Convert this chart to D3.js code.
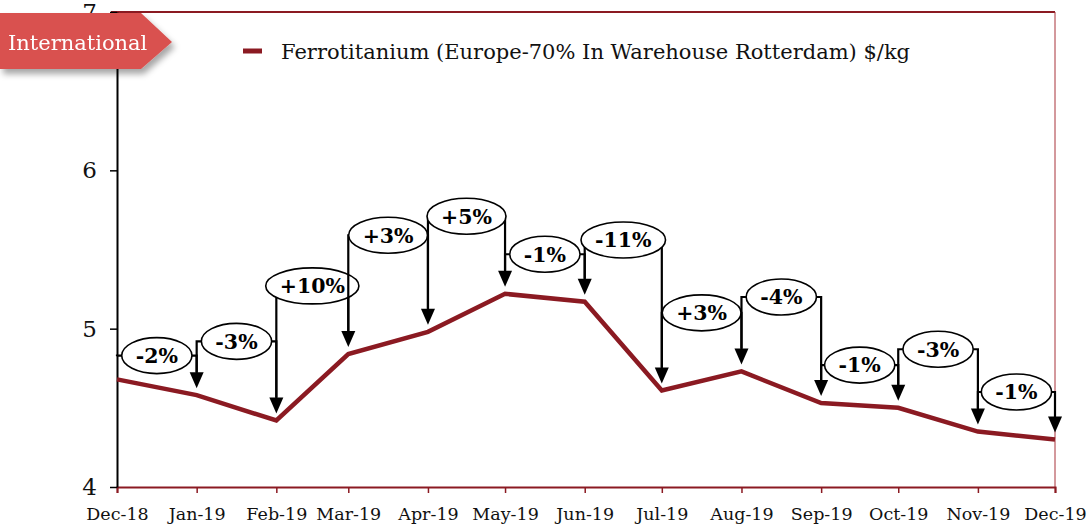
<!DOCTYPE html>
<html>
<head>
<meta charset="utf-8">
<script src="https://cdn.jsdelivr.net/npm/d3@7"></script>
<style>
	body { margin: 0; background: #fff; }
	svg { display: block; }
	.axis text { font-family: "DejaVu Serif", serif; fill: #111; }
</style>
</head>
<body>
<div id="chart"></div>
<script>
//////////////////////////// data /////////////////////////////////////////

const months = ["Dec-18", "Jan-19", "Feb-19", "Mar-19", "Apr-19", "May-19", "Jun-19",
	"Jul-19", "Aug-19", "Sep-19", "Oct-19", "Nov-19", "Dec-19"];
const prices = [4.68, 4.58, 4.42, 4.84, 4.98, 5.22, 5.17, 4.61, 4.73, 4.53, 4.5, 4.35, 4.3];
// month-on-month change callouts, one per step
const changeLabels = ["-2%", "-3%", "+10%", "+3%", "+5%", "-1%", "-11%", "+3%", "-4%", "-1%", "-3%", "-1%"];
// height (in $/kg) where each callout bracket sits
const calloutLevels = [4.83, 4.92, 5.27, 5.59, 5.71, 5.47, 5.56, 5.1, 5.2, 4.77, 4.87, 4.6];
const yTicks = [4, 5, 6, 7];
const seriesName = "Ferrotitanium (Europe-70% In Warehouse Rotterdam) $/kg";
const badgeText = "International";

//////////////////////////// setup ////////////////////////////////////////

const width = 1087;
const height = 527;
const margin = { top: 12, right: 32, bottom: 40, left: 117 };
const lineColor = "#8b1a22";

const parseMonth = d3.timeParse("%b-%y");
const dates = months.map(parseMonth);
const data = dates.map((d, i) => ({ date: d, label: months[i], value: prices[i] }));

const svg = d3.select("#chart").append("svg")
	.attr("width", width)
	.attr("height", height);

const defs = svg.append("defs");
defs.append("filter")
	.attr("id", "shadow")
	.attr("x", "-10%").attr("y", "-20%")
	.attr("width", "130%").attr("height", "160%")
	.append("feDropShadow")
	.attr("dx", 3).attr("dy", 5)
	.attr("stdDeviation", 3)
	.attr("flood-color", "#000")
	.attr("flood-opacity", 0.35);

const xScale = d3.scaleTime()
	.domain(d3.extent(dates))
	.range([margin.left, width - margin.right]);

const yScale = d3.scaleLinear()
	.domain([4, 7])
	.range([height - margin.bottom, margin.top]);

//////////////////////////// frame ////////////////////////////////////////

const x0 = xScale.range()[0], x1 = xScale.range()[1];
const yTop = yScale(7), yBot = yScale(4);

svg.append("line")
	.attr("x1", x0 - 6).attr("x2", x1)
	.attr("y1", yTop).attr("y2", yTop)
	.attr("stroke", lineColor).attr("stroke-width", 2);

svg.append("line")
	.attr("x1", x1).attr("x2", x1)
	.attr("y1", yTop).attr("y2", yBot)
	.attr("stroke", "#a8323a").attr("stroke-width", 1);

//////////////////////////// axes /////////////////////////////////////////

const xAxis = svg.append("g")
	.attr("class", "axis")
	.attr("transform", `translate(0,${yBot})`)
	.call(d3.axisBottom(xScale)
		.tickValues(dates)
		.tickFormat((d, i) => months[i])
		.tickSize(6)
		.tickPadding(15));
xAxis.select(".domain").attr("stroke", lineColor).attr("stroke-width", 2);
xAxis.selectAll(".tick line").attr("stroke", lineColor).attr("stroke-width", 1.5);
xAxis.selectAll(".tick text").style("font-size", "17.5px");

const yAxis = svg.append("g")
	.attr("class", "axis")
	.attr("transform", `translate(${x0},0)`)
	.call(d3.axisLeft(yScale)
		.tickValues(yTicks)
		.tickFormat(d3.format("d"))
		.tickSize(7)
		.tickPadding(13)
		.tickSizeOuter(0));
yAxis.select(".domain").attr("stroke", "#000").attr("stroke-width", 2);
yAxis.selectAll(".tick line").attr("stroke", "#000").attr("stroke-width", 1.5);
yAxis.selectAll(".tick text").style("font-size", "23px");

//////////////////////////// line /////////////////////////////////////////

const line = d3.line()
	.x((d) => xScale(d.date))
	.y((d) => yScale(d.value));

svg.append("path")
	.datum(data)
	.attr("d", line)
	.attr("fill", "none")
	.attr("stroke", lineColor)
	.attr("stroke-width", 4.5)
	.attr("stroke-linejoin", "miter");

//////////////////////////// callouts /////////////////////////////////////

const arrowGap = 7;
const headW = 7, headH = 16;

changeLabels.forEach((lab, i) => {
	const xa = xScale(dates[i]);
	const xb = xScale(dates[i + 1]);
	const ly = yScale(calloutLevels[i]);
	const ya = yScale(prices[i]) - arrowGap;
	const yb = yScale(prices[i + 1]) - arrowGap;
	const g = svg.append("g").attr("class", "callout");

	// left leg, bracket, right leg
	g.append("path")
		.attr("d", `M${xa},${ya - headH}V${ly}H${xb}V${yb - headH + 1}`)
		.attr("fill", "none")
		.attr("stroke", "#000")
		.attr("stroke-width", 2.2);

	g.append("path")
		.attr("d", `M${xb - headW},${yb - headH}L${xb + headW},${yb - headH}L${xb},${yb}Z`)
		.attr("fill", "#000");

	const cx = (xa + xb) / 2;
	const ell = g.append("ellipse")
		.attr("cx", cx).attr("cy", ly)
		.attr("fill", "#fff")
		.attr("stroke", "#000")
		.attr("stroke-width", 1.6);

	const txt = g.append("text")
		.attr("x", cx).attr("y", ly)
		.attr("dy", "0.36em")
		.attr("text-anchor", "middle")
		.style("font-family", "'DejaVu Serif', serif")
		.style("font-weight", "bold")
		.style("font-size", "20.5px")
		.text(lab);

	const tw = txt.node().getComputedTextLength();
	ell.attr("rx", tw / 2 + 14).attr("ry", 18);
});

//////////////////////////// legend ///////////////////////////////////////

svg.append("line")
	.attr("x1", 243).attr("x2", 262)
	.attr("y1", 51).attr("y2", 51)
	.attr("stroke", lineColor).attr("stroke-width", 5);

svg.append("text")
	.attr("x", 281).attr("y", 59)
	.style("font-family", "'DejaVu Serif', serif")
	.style("font-size", "21px")
	.attr("fill", "#111")
	.text(seriesName);

//////////////////////////// badge ////////////////////////////////////////

const badge = svg.append("g").attr("filter", "url(#shadow)");
badge.append("path")
	.attr("d", "M0,13H141L172,42L141,69H0Z")
	.attr("fill", "#d9514f");
badge.append("text")
	.attr("x", 8).attr("y", 50)
	.style("font-family", "'DejaVu Serif', serif")
	.style("font-size", "21px")
	.attr("fill", "#fff")
	.text(badgeText);
</script>
</body>
</html>
